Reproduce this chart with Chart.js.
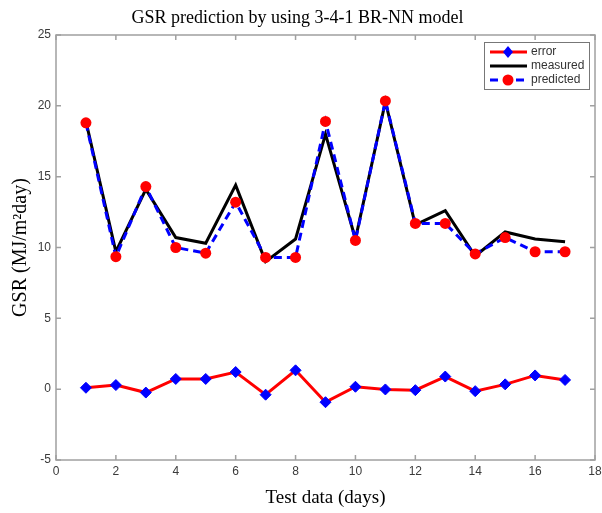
<!DOCTYPE html>
<html>
<head>
<meta charset="utf-8">
<title>GSR prediction</title>
<script src="https://cdn.jsdelivr.net/npm/chart.js@4.4.1/dist/chart.umd.min.js"></script>
<style>
  body { margin: 0; background: #fff; }
  #wrap { width: 602px; height: 513px; }
</style>
</head>
<body>
<div id="wrap"><canvas id="chart" width="602" height="513"></canvas></div>
<script>
// chart values
const days = [1, 2, 3, 4, 5, 6, 7, 8, 9, 10, 11, 12, 13, 14, 15, 16, 17];
const measured = [18.9, 9.7, 14.1, 10.7, 10.3, 14.4, 9.0, 10.6, 18.0, 10.6, 20.3, 11.6, 12.6, 9.4, 11.1, 10.6, 10.4];
const predicted = [18.8, 9.35, 14.3, 10.0, 9.6, 13.2, 9.3, 9.3, 18.9, 10.5, 20.35, 11.7, 11.7, 9.55, 10.7, 9.7, 9.7];
const errors = [0.1, 0.29, -0.24, 0.72, 0.72, 1.21, -0.39, 1.33, -0.92, 0.17, -0.02, -0.07, 0.89, -0.14, 0.34, 0.97, 0.65];
const xTicks = [0, 2, 4, 6, 8, 10, 12, 14, 16, 18];
const yTicks = [-5, 0, 5, 10, 15, 20, 25];
const seriesNames = ["error", "measured", "predicted"];

const serif = "'Liberation Serif', 'Times New Roman', serif";
const sans = "'Liberation Sans', Arial, sans-serif";

// turn two arrays into x/y points
function toPoints(ys) {
  return days.map((d, i) => ({ x: d, y: ys[i] }));
}

// frame, inner tick marks and the boxed legend, matlab style
const framePlugin = {
  id: "frame",
  afterDraw(chart) {
    const ctx = chart.ctx;
    const a = chart.chartArea;
    const xs = chart.scales.x;
    const ys = chart.scales.y;
    ctx.save();
    ctx.strokeStyle = "#a0a0a0";
    ctx.lineWidth = 1.5;
    ctx.strokeRect(a.left, a.top, a.right - a.left, a.bottom - a.top);
    ctx.beginPath();
    for (let i = 0; i < xTicks.length; i++) {
      const px = xs.getPixelForValue(xTicks[i]);
      ctx.moveTo(px, a.bottom);
      ctx.lineTo(px, a.bottom - 5);
      ctx.moveTo(px, a.top);
      ctx.lineTo(px, a.top + 5);
    }
    for (let i = 0; i < yTicks.length; i++) {
      const py = ys.getPixelForValue(yTicks[i]);
      ctx.moveTo(a.left, py);
      ctx.lineTo(a.left + 5, py);
      ctx.moveTo(a.right, py);
      ctx.lineTo(a.right - 5, py);
    }
    ctx.stroke();

    // legend box
    const bx = 484, by = 42, bw = 105, bh = 47;
    ctx.fillStyle = "#fff";
    ctx.fillRect(bx, by, bw, bh);
    ctx.strokeStyle = "#777";
    ctx.lineWidth = 1;
    ctx.strokeRect(bx + 0.5, by + 0.5, bw, bh);
    const rows = [52, 66, 80];
    ctx.font = "12px " + sans;
    ctx.textBaseline = "middle";
    for (let i = 0; i < seriesNames.length; i++) {
      const ds = chart.data.datasets[i];
      const y = rows[i];
      ctx.beginPath();
      ctx.setLineDash(ds.borderDash || []);
      ctx.strokeStyle = ds.borderColor;
      ctx.lineWidth = 3;
      ctx.moveTo(490, y);
      ctx.lineTo(527, y);
      ctx.stroke();
      ctx.setLineDash([]);
      if (ds.pointRadius > 0) {
        ctx.fillStyle = ds.pointBackgroundColor;
        ctx.beginPath();
        if (ds.pointStyle === "rectRot") {
          ctx.moveTo(508, y - 6);
          ctx.lineTo(513, y);
          ctx.lineTo(508, y + 6);
          ctx.lineTo(503, y);
        } else {
          ctx.arc(508, y, 5.5, 0, Math.PI * 2);
        }
        ctx.closePath();
        ctx.fill();
      }
      ctx.fillStyle = "#333";
      ctx.fillText(seriesNames[i], 531, y);
    }
    ctx.restore();
  },
};

const ctx = document.getElementById("chart");
new Chart(ctx, {
  type: "line",
  data: {
    datasets: [
      {
        label: seriesNames[0],
        data: toPoints(errors),
        borderColor: "#ff0000",
        borderWidth: 3,
        pointStyle: "rectRot",
        pointRadius: 5.5,
        pointBackgroundColor: "#0000ff",
        pointBorderColor: "#0000ff",
        pointBorderWidth: 1,
        order: 3,
      },
      {
        label: seriesNames[1],
        data: toPoints(measured),
        borderColor: "#000000",
        borderWidth: 3,
        pointRadius: 0,
        order: 2,
      },
      {
        label: seriesNames[2],
        data: toPoints(predicted),
        borderColor: "#0000ff",
        borderWidth: 3,
        borderDash: [8, 5],
        pointStyle: "circle",
        pointRadius: 5.5,
        pointBackgroundColor: "#ff0000",
        pointBorderColor: "#ff0000",
        pointBorderWidth: 0,
        order: 1,
      },
    ],
  },
  options: {
    responsive: false,
    animation: false,
    layout: { padding: { left: 0, right: 7, top: 0, bottom: 0 } },
    plugins: {
      legend: { display: false },
      tooltip: { enabled: false },
      title: {
        display: true,
        text: "GSR prediction by using 3-4-1 BR-NN model",
        color: "#000",
        font: { family: serif, size: 18, weight: "normal", lineHeight: 1.2 },
        padding: { top: 7, bottom: 6.4 },
      },
    },
    scales: {
      x: {
        type: "linear",
        min: 0,
        max: 18,
        afterBuildTicks(scale) {
          scale.ticks = xTicks.map((v) => ({ value: v }));
        },
        afterFit(scale) {
          // fixed height, and let the last label hang over the edge
          scale.height = 53;
          scale.paddingLeft = 0;
          scale.paddingRight = 0;
        },
        grid: { drawOnChartArea: false, drawTicks: false },
        border: { display: false },
        ticks: { color: "#3a3a3a", padding: 4, font: { family: sans, size: 12 } },
        title: {
          display: true,
          text: "Test data (days)",
          color: "#000",
          font: { family: serif, size: 19, lineHeight: 1.2 },
          padding: { top: 0, bottom: 4 },
        },
      },
      y: {
        min: -5,
        max: 25,
        afterBuildTicks(scale) {
          scale.ticks = yTicks.map((v) => ({ value: v }));
        },
        afterFit(scale) {
          scale.width = 56;
          scale.paddingTop = 0;
          scale.paddingBottom = 0;
        },
        grid: { drawOnChartArea: false, drawTicks: false },
        border: { display: false },
        ticks: { color: "#3a3a3a", padding: 5, font: { family: sans, size: 12 } },
        title: {
          display: true,
          text: "GSR (MJ/m²day)",
          color: "#000",
          font: { family: serif, size: 20, lineHeight: 1.2 },
          padding: { top: 9, bottom: 0 },
        },
      },
    },
  },
  plugins: [framePlugin],
});
</script>
</body>
</html>
